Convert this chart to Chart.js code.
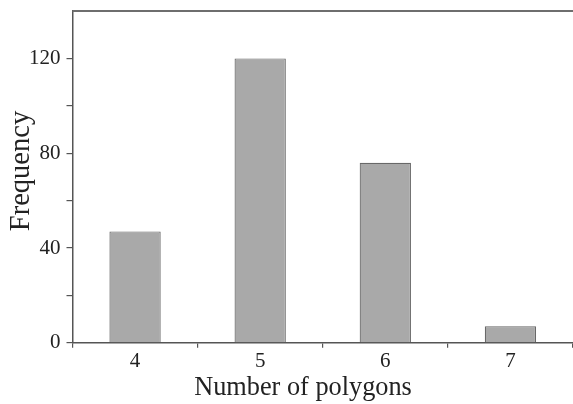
<!DOCTYPE html>
<html>
<head>
<meta charset="utf-8">
<script src="https://cdn.jsdelivr.net/npm/chart.js@4"></script>
<style>
html,body{margin:0;padding:0;background:#fff;}
#wrap{width:573px;height:404px;}
</style>
</head>
<body>
<div id="wrap"><canvas id="c" width="573" height="404"></canvas></div>
<script>
const categories = ['4', '5', '6', '7'];
const frequency = [47, 120, 76, 7];
const yTickLabels = [0, 40, 80, 120];
const yMinorTicks = [20, 60, 100];
const xTitle = 'Number of polygons';
const yTitle = 'Frequency';

const frameAndTitles = {
  id: 'frameAndTitles',
  afterDraw(chart) {
    const {ctx, chartArea} = chart;
    ctx.save();
    ctx.strokeStyle = '#6e6e6e';
    ctx.lineWidth = 2;
    ctx.beginPath();
    ctx.moveTo(chartArea.left, chartArea.top);
    ctx.lineTo(chart.width, chartArea.top);
    ctx.stroke();

    ctx.fillStyle = '#222';
    ctx.font = '26.3px "Liberation Serif"';
    ctx.textAlign = 'center';
    ctx.textBaseline = 'alphabetic';
    ctx.fillText(xTitle, 303, 395);

    ctx.translate(29, 171);
    ctx.rotate(-Math.PI / 2);
    ctx.font = '28.5px "Liberation Serif"';
    ctx.fillText(yTitle, 0, 0);
    ctx.restore();
  }
};

new Chart(document.getElementById('c'), {
  type: 'bar',
  data: {
    labels: categories,
    datasets: [{
      data: frequency,
      backgroundColor: '#a9a9a9',
      borderColor: '#686868',
      borderWidth: 1.2,
      categoryPercentage: 1,
      barPercentage: 0.41
    }]
  },
  options: {
    responsive: false,
    animation: false,
    devicePixelRatio: 1,
    layout: {padding: {top: 11, right: 0, left: 23, bottom: 29}},
    plugins: {legend: {display: false}, tooltip: {enabled: false}},
    scales: {
      x: {
        offset: true,
        grid: {offset: true, drawOnChartArea: false, tickLength: 5, color: '#555', lineWidth: 1.2},
        border: {color: '#555', width: 1.5},
        ticks: {color: '#222', font: {family: 'Liberation Serif', size: 21}, padding: 1},
        title: {display: false}
      },
      y: {
        min: 0, max: 140,
        afterFit(scale) { scale.paddingTop = 0; },
        grid: {drawOnChartArea: false, tickLength: 6, color: '#555', lineWidth: 1.2},
        border: {color: '#555', width: 1.5},
        ticks: {stepSize: 20, color: '#222', font: {family: 'Liberation Serif', size: 21}, padding: 6,
          callback: (v) => yTickLabels.includes(v) ? String(v) : (yMinorTicks.includes(v) ? '' : null)},
        title: {display: false}
      }
    }
  },
  plugins: [frameAndTitles]
});
</script>
</body>
</html>
